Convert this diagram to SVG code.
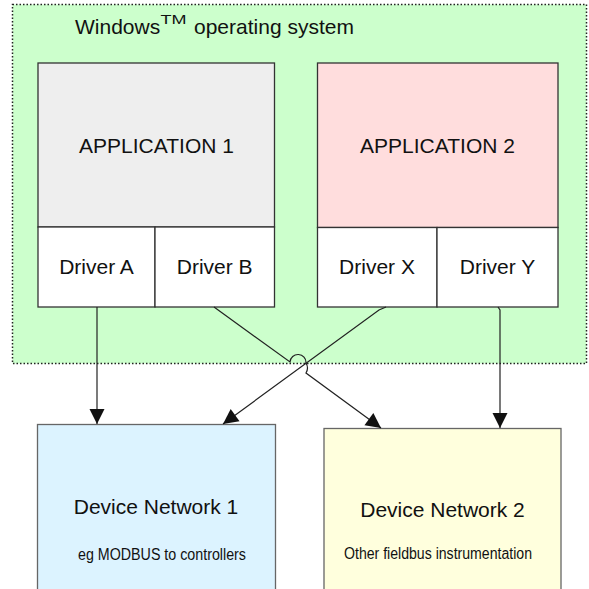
<svg xmlns="http://www.w3.org/2000/svg" width="589" height="589" viewBox="0 0 589 589">
<style>
text{font-family:"Liberation Sans",Arial,sans-serif;fill:#111;}
.big{font-size:21px;text-anchor:middle;}
.small{font-size:16px;}
.box{stroke:#333;stroke-width:1.3;}
.dev{stroke:#666;stroke-width:1.3;}
.conn{fill:none;stroke:#222;stroke-width:1.2;}
</style>
<defs>
<marker id="arr" markerUnits="userSpaceOnUse" markerWidth="18" markerHeight="18" refX="15" refY="8" orient="auto" overflow="visible">
<path d="M0,0.5 L15,8 L0,15.5 z" fill="#111"/>
</marker>
</defs>
<g id="windows">
<rect x="12.5" y="4.5" width="574" height="359" fill="#ccffcc" stroke="#222" stroke-width="1.5" stroke-dasharray="1.5,2"/>
<text x="75" y="34" font-size="21">Windows</text>
<text x="160.5" y="23.5" font-size="12" textLength="26" lengthAdjust="spacingAndGlyphs">TM</text>
<text x="194" y="34" font-size="21">operating system</text>
</g>
<g id="app1">
<rect class="box" x="38" y="63" width="236.5" height="164" fill="#eeeeee"/>
<text class="big" x="156.5" y="153">APPLICATION 1</text>
</g>
<g id="driverA">
<rect class="box" x="38" y="227" width="117" height="80" fill="#ffffff"/>
<text class="big" x="96.5" y="274">Driver A</text>
</g>
<g id="driverB">
<rect class="box" x="155" y="227" width="119.5" height="80" fill="#ffffff"/>
<text class="big" x="214.7" y="274">Driver B</text>
</g>
<g id="app2">
<rect class="box" x="317.5" y="63" width="240.5" height="164.5" fill="#ffdddd"/>
<text class="big" x="437.5" y="153">APPLICATION 2</text>
</g>
<g id="driverX">
<rect class="box" x="317.5" y="227.5" width="119.5" height="79.5" fill="#ffffff"/>
<text class="big" x="377" y="274">Driver X</text>
</g>
<g id="driverY">
<rect class="box" x="437" y="227.5" width="121" height="79.5" fill="#ffffff"/>
<text class="big" x="497.5" y="274">Driver Y</text>
</g>
<g id="net1">
<rect class="dev" x="37.5" y="424.5" width="238" height="175" fill="#dcf3ff"/>
<text class="big" x="156" y="514">Device Network 1</text>
<text class="small" x="78" y="560" textLength="168" lengthAdjust="spacingAndGlyphs">eg MODBUS to controllers</text>
</g>
<g id="net2">
<rect class="dev" x="324" y="428.5" width="237" height="175" fill="#ffffdd"/>
<text class="big" x="442.5" y="517">Device Network 2</text>
<text class="small" x="344" y="559" textLength="188" lengthAdjust="spacingAndGlyphs">Other fieldbus instrumentation</text>
</g>
<g id="connectors">
<path class="conn" d="M97,307 L97,424" marker-end="url(#arr)"/>
<path class="conn" d="M214,307 L290,362 A8,8 0 0 1 306,363 Q309,368 306,373 L381,428" marker-end="url(#arr)"/>
<path class="conn" d="M386,307 L379,310 L223,424" marker-end="url(#arr)"/>
<path class="conn" d="M498,307 L500,310 L500,428" marker-end="url(#arr)"/>
</g>
</svg>
